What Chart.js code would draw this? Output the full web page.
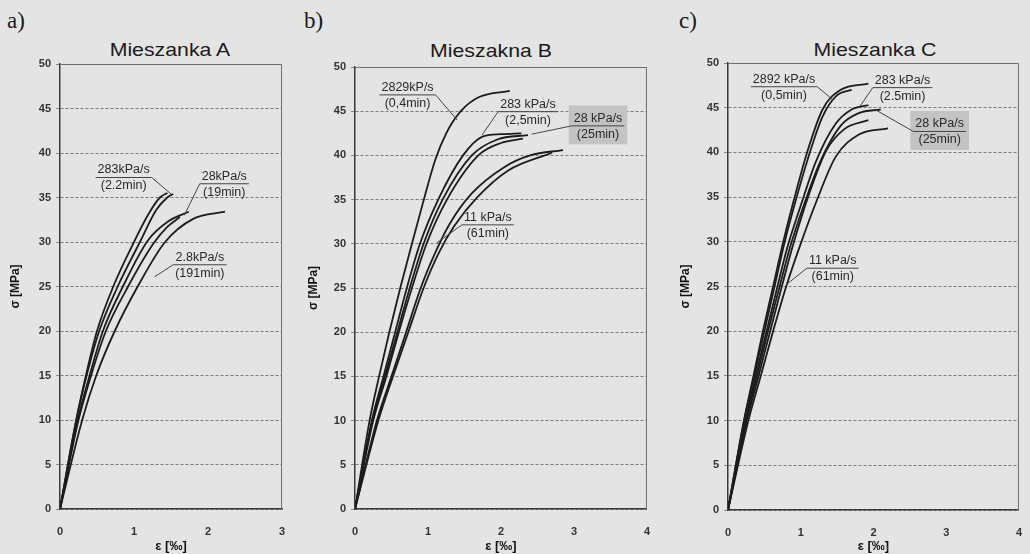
<!DOCTYPE html>
<html>
<head>
<meta charset="utf-8">
<script src="https://cdn.jsdelivr.net/npm/chart.js@4.4.0/dist/chart.umd.min.js"></script>
<style>
  body { margin: 0; background: #e4e4e4; }
  #wrap { position: relative; width: 1030px; height: 554px; overflow: hidden; background: #e4e4e4; }
  canvas { position: absolute; top: 0; }
  .lbl { position: absolute; font-family: "Liberation Serif", serif; font-size: 23px; color: #1a1a1a; }
  .ttl { position: absolute; font-family: "Liberation Sans", Arial, sans-serif; font-size: 19px; color: #1a1a1a;
         transform: translateX(-50%) scaleX(1.12); white-space: nowrap; }
</style>
</head>
<body>
<div id="wrap">
  <div class="lbl" style="left:7px;top:8px">a)</div>
  <div class="lbl" style="left:304px;top:8px">b)</div>
  <div class="lbl" style="left:679px;top:8px">c)</div>
  <div class="ttl" style="left:170px;top:39px">Mieszanka A</div>
  <div class="ttl" style="left:491px;top:40px">Mieszakna B</div>
  <div class="ttl" style="left:875px;top:39px">Mieszanka C</div>
  <canvas id="chartA" width="300" height="554" style="left:0px"></canvas>
  <canvas id="chartB" width="360" height="554" style="left:298px"></canvas>
  <canvas id="chartC" width="360" height="554" style="left:670px"></canvas>
</div>
<script>
// Mieszanka A  (strain in permille, stress in MPa)
const epsA1 = [0, 0.22, 0.35, 0.5, 0.72, 1.0, 1.2, 1.35, 1.45];
const sigA1 = [0, 10, 15, 20, 25, 30, 33.2, 35, 35.5];
const epsA2 = [0, 0.22, 0.36, 0.53, 0.78, 1.08, 1.3, 1.45, 1.53];
const sigA2 = [0, 10, 15, 20, 25, 30, 33.6, 35, 35.4];
const epsA3 = [0, 0.24, 0.4, 0.58, 0.85, 1.19, 1.46, 1.74];
const sigA3 = [0, 10, 15, 20, 25, 30.2, 32.3, 33.4];
const epsA4 = [0, 0.25, 0.42, 0.62, 0.92, 1.26, 1.45, 1.62];
const sigA4 = [0, 10, 15, 20, 25, 29.8, 31.7, 32.8];
const epsA5 = [0, 0.3, 0.49, 0.74, 1.05, 1.42, 1.8, 2.23];
const sigA5 = [0, 10, 15, 20, 25, 30, 32.6, 33.4];

// Mieszakna B
const epsB1 = [0, 0.2, 0.33, 0.47, 0.62, 0.78, 0.93, 1.1, 1.25, 1.45, 1.7, 2.12];
const sigB1 = [0, 10, 15, 20, 25, 30, 34.6, 39.5, 42.5, 45.0, 46.6, 47.3];
const epsB2 = [0, 0.23, 0.39, 0.55, 0.71, 0.89, 1.14, 1.48, 1.74, 2.0, 2.28];
const sigB2 = [0, 10, 15, 20, 25, 30, 35, 40, 42.1, 42.4, 42.5];
const epsB3 = [0, 0.24, 0.41, 0.58, 0.75, 0.94, 1.2, 1.6, 1.95, 2.37];
const sigB3 = [0, 10, 15, 20, 25, 30, 35, 40, 41.8, 42.3];
const epsB4 = [0, 0.25, 0.43, 0.6, 0.78, 0.98, 1.26, 1.69, 2.0, 2.3];
const sigB4 = [0, 10, 15, 20, 25, 30, 35, 40, 41.4, 41.9];
const epsB5 = [0, 0.3, 0.5, 0.7, 0.9, 1.1, 1.3, 1.6, 2.05, 2.4, 2.85];
const sigB5 = [0, 10, 15, 20, 25, 29, 32.3, 35.7, 38.7, 40, 40.6];
const epsB6 = [0, 0.32, 0.52, 0.73, 0.94, 1.15, 1.36, 1.68, 2.1, 2.7];
const sigB6 = [0, 10, 15, 20, 25, 29, 32, 35.3, 38.3, 40.3];

// Mieszanka C
const epsC1 = [0, 0.22, 0.35, 0.48, 0.62, 0.76, 0.9, 1.08, 1.3, 1.55, 1.93];
const sigC1 = [0, 10, 15, 20, 25, 30, 34.5, 39.8, 44.8, 47.0, 47.7];
const epsC2 = [0, 0.22, 0.36, 0.5, 0.64, 0.78, 0.93, 1.11, 1.3, 1.5, 1.7];
const sigC2 = [0, 10, 15, 20, 25, 30, 34.6, 39.6, 44.0, 46.4, 47.0];
const epsC3 = [0, 0.24, 0.38, 0.53, 0.68, 0.82, 0.99, 1.21, 1.48, 1.7, 1.93];
const sigC3 = [0, 10, 15, 20, 25, 29.5, 33.8, 39.0, 43.2, 44.8, 45.3];
const epsC4 = [0, 0.25, 0.4, 0.55, 0.71, 0.85, 1.03, 1.27, 1.55, 1.8, 2.1];
const sigC4 = [0, 10, 15, 20, 25, 29.3, 33.8, 39, 43, 44.4, 44.8];
const epsC5 = [0, 0.26, 0.42, 0.58, 0.74, 0.9, 1.1, 1.35, 1.6, 1.93];
const sigC5 = [0, 10, 15, 20, 25, 29.8, 35, 40.2, 42.6, 43.6];
const epsC6 = [0, 0.28, 0.45, 0.62, 0.8, 1.0, 1.21, 1.48, 1.8, 2.2];
const sigC6 = [0, 10, 15, 20, 25, 29.8, 34.4, 39.5, 42.0, 42.7];

const yTicks = [0, 5, 10, 15, 20, 25, 30, 35, 40, 45, 50];

const pts = (e, s) => e.map((v, i) => ({ x: v, y: s[i] }));

// callouts: rate over time, anchored in data units
const notesA = [
  { top: '283kPa/s', bot: '(2.2min)', x: 0.86, y: 37.3, side: 'right', to: [1.5, 35.4] },
  { top: '28kPa/s', bot: '(19min)', x: 2.22, y: 36.6, side: 'left', to: [1.68, 33.0] },
  { top: '2.8kPa/s', bot: '(191min)', x: 1.89, y: 27.5, side: 'left', to: [1.28, 26.1] },
];
const notesB = [
  { top: '2829kP/s', bot: '(0,4min)', x: 0.72, y: 46.9, side: 'right', to: [1.4, 44.0] },
  { top: '283 kPa/s', bot: '(2,5min)', x: 2.37, y: 45.0, side: 'left', to: [1.74, 42.3] },
  { top: '28 kPa/s', bot: '(25min)', x: 3.33, y: 43.4, side: 'left', to: [2.42, 42.4], box: true },
  { top: '11 kPa/s', bot: '(61min)', x: 1.82, y: 32.2, side: 'left', to: [1.12, 30.1] },
];
const notesC = [
  { top: '2892 kPa/s', bot: '(0,5min)', x: 0.77, y: 47.4, side: 'right', to: [1.44, 45.9] },
  { top: '283 kPa/s', bot: '(2.5min)', x: 2.4, y: 47.3, side: 'left', to: [1.8, 45.0] },
  { top: '28 kPa/s', bot: '(25min)', x: 2.91, y: 42.4, side: 'left', to: [2.02, 44.8], box: true },
  { top: '11 kPa/s', bot: '(61min)', x: 1.44, y: 27.1, side: 'left', to: [0.8, 25.2] },
];

const decor = {
  id: 'decor',
  afterDraw(chart) {
    const { ctx, chartArea: a, scales: { x, y } } = chart;
    ctx.save();
    ctx.strokeStyle = '#6e6e6e';
    ctx.lineWidth = 1;
    ctx.beginPath();
    ctx.moveTo(a.left, a.top + 0.5);
    ctx.lineTo(a.right - 0.5, a.top + 0.5);
    ctx.lineTo(a.right - 0.5, a.bottom);
    ctx.stroke();

    ctx.font = '12.5px "Liberation Sans", Arial, sans-serif';
    ctx.textAlign = 'center';
    ctx.textBaseline = 'middle';
    (chart.options.plugins.decor.notes || []).forEach(n => {
      const px = x.getPixelForValue(n.x);
      const py = y.getPixelForValue(n.y);
      const w = Math.max(ctx.measureText(n.top).width, ctx.measureText(n.bot).width) + 4;
      if (n.box) {
        ctx.fillStyle = '#c3c3c3';
        ctx.fillRect(px - w / 2 - 3, py - 20, w + 6, 39);
      }
      ctx.fillStyle = '#2a2a2a';
      ctx.fillText(n.top, px, py - 7);
      ctx.fillText(n.bot, px, py + 9);
      ctx.strokeStyle = '#444';
      ctx.lineWidth = 1;
      const sx = n.side === 'left' ? px - w / 2 : px + w / 2;
      ctx.beginPath();
      ctx.moveTo(px - w / 2, py + 0.5);
      ctx.lineTo(px + w / 2, py + 0.5);
      ctx.moveTo(sx, py + 0.5);
      ctx.lineTo(x.getPixelForValue(n.to[0]), y.getPixelForValue(n.to[1]));
      ctx.stroke();
    });
    ctx.restore();
  }
};

function makeChart(id, curves, xMax, notes, yW, padTop, padRight, xH) {
  new Chart(document.getElementById(id), {
    type: 'line',
    data: {
      datasets: curves.map(c => ({
        data: pts(c[0], c[1]),
        borderColor: '#1c1c1c',
        borderWidth: 1.8,
        pointRadius: 0,
        fill: false,
        cubicInterpolationMode: 'monotone',
      })),
    },
    options: {
      responsive: false,
      animation: false,
      layout: { padding: { left: 0, top: padTop, right: padRight, bottom: 0 } },
      plugins: { legend: { display: false }, tooltip: { enabled: false }, decor: { notes: notes } },
      scales: {
        x: {
          type: 'linear', min: 0, max: xMax,
          afterFit: s => { s.height = xH; },
          ticks: { stepSize: 1, padding: 8, color: '#333', font: { size: 11, weight: 'bold', family: 'Liberation Sans' } },
          grid: { display: false },
          border: { display: true, color: '#3a3a3a', width: 1.5 },
          title: { display: true, text: 'ε [‰]', color: '#111', padding: { top: 0, bottom: 0 },
                   font: { size: 13, weight: 'bold', family: 'Liberation Sans' } },
        },
        y: {
          type: 'linear', min: 0, max: 50,
          afterFit: s => { s.width = yW; },
          afterBuildTicks: s => { s.ticks = yTicks.map(v => ({ value: v })); },
          ticks: { padding: 5, color: '#333', font: { size: 11, weight: 'bold', family: 'Liberation Sans' } },
          grid: { color: '#7a7a7a', lineWidth: 1, tickLength: 4, tickColor: '#888' },
          // in v4 border.dash styles the grid lines
          border: { display: true, color: '#3a3a3a', width: 1.5, dash: [3, 2] },
          title: { display: true, text: 'σ [MPa]', color: '#111', padding: { top: 8, bottom: 0 },
                   font: { size: 12, weight: 'bold', family: 'Liberation Sans' } },
        },
      },
    },
    plugins: [decor],
  });
}

makeChart('chartA',
  [[epsA1, sigA1], [epsA2, sigA2], [epsA3, sigA3], [epsA4, sigA4], [epsA5, sigA5]],
  3, notesA, 60, 64, 18, 45);
makeChart('chartB',
  [[epsB1, sigB1], [epsB2, sigB2], [epsB3, sigB3], [epsB4, sigB4], [epsB5, sigB5], [epsB6, sigB6]],
  4, notesB, 57, 67, 11, 45);
makeChart('chartC',
  [[epsC1, sigC1], [epsC2, sigC2], [epsC3, sigC3], [epsC4, sigC4], [epsC5, sigC5], [epsC6, sigC6]],
  4, notesC, 58, 63, 5, 44);
</script>
</body>
</html>
